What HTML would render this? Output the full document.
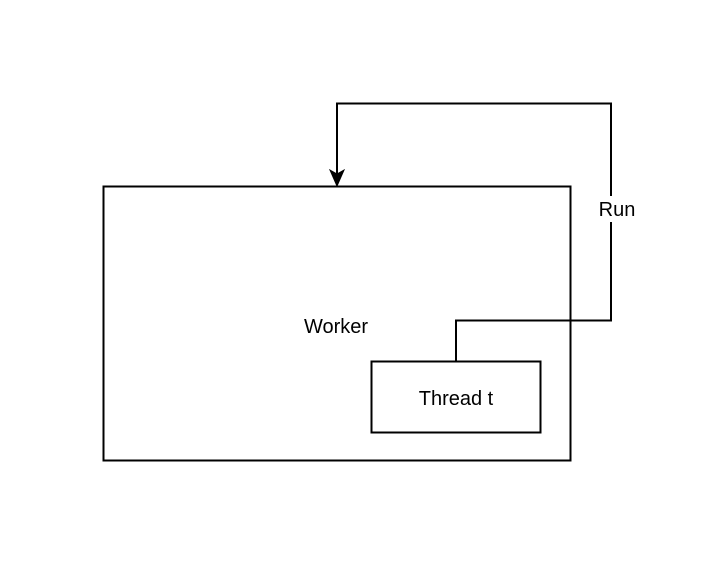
<!DOCTYPE html>
<html><head><style>body{margin:0;background:#fff}</style></head><body>
<svg width="712" height="572" xmlns="http://www.w3.org/2000/svg" style="display:block">
<rect width="712" height="572" fill="#fff"/>
<rect x="103.5" y="186.5" width="467" height="274" fill="none" stroke="#000" stroke-width="2"/>
<rect x="371.5" y="361.5" width="169" height="71" fill="#fff" stroke="#000" stroke-width="2"/>
<polyline points="456,361 456,320.5 611,320.5 611,103.5 337,103.5 337,175" fill="none" stroke="#000" stroke-width="2"/>
<path d="M337,186 L330,170 L337,174 L344,170 Z" fill="#000" stroke="#000" stroke-width="1"/>
<rect x="595" y="196" width="44" height="26" fill="#fff"/>
<text x="617" y="216" font-family="Liberation Sans, sans-serif" font-size="20" text-anchor="middle">Run</text>
<text x="336" y="333" font-family="Liberation Sans, sans-serif" font-size="20" text-anchor="middle">Worker</text>
<text x="456" y="405" font-family="Liberation Sans, sans-serif" font-size="20" text-anchor="middle">Thread t</text>
</svg>
</body></html>
